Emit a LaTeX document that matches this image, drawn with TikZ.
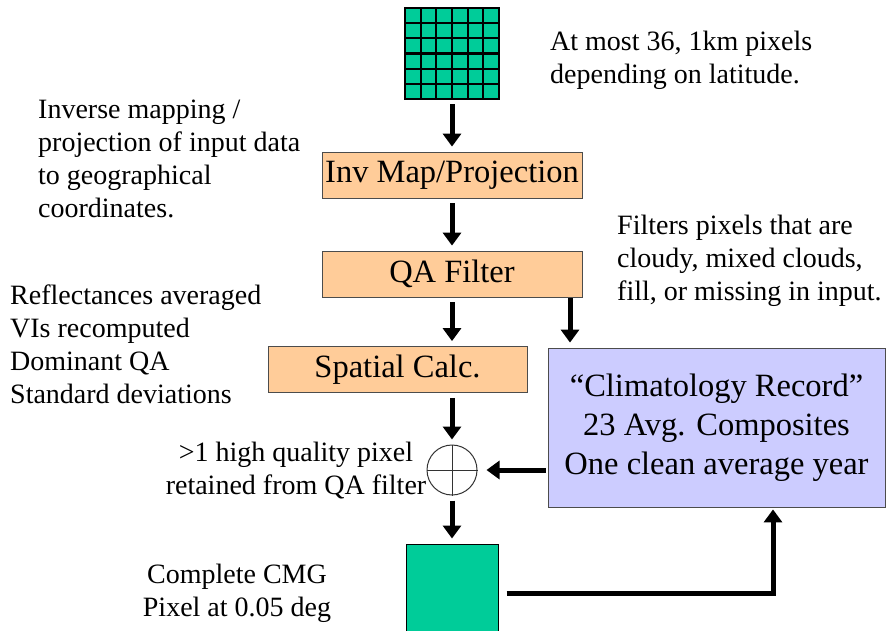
\documentclass[tikz,border=0pt]{standalone}
\usepackage{fontspec}
\setmainfont{Liberation Serif}
\usepackage{xcolor}
\usetikzlibrary{arrows.meta}
\definecolor{cmggreen}{HTML}{00CC99}
\definecolor{procorange}{HTML}{FFCC99}
\definecolor{climblue}{HTML}{CCCCFF}

\begin{document}
\begin{tikzpicture}[x=1pt,y=-1pt]
\tikzset{>={Triangle[width=18pt,length=13pt]}}
\tikzstyle{proc} =[draw=black!70, fill=procorange, line width=0.8pt, minimum height=46pt, inner sep=0pt, font=\fontsize{32.5}{39}\selectfont]
\tikzstyle{note} =[inner sep=0pt, font=\fontsize{28}{33}\selectfont]
\tikzstyle{flow} =[->, line width=5pt, shorten >=5pt, shorten <=5pt]

\useasboundingbox (0,0) rectangle (888,631);

% input grid
\node[draw=black!60, fill=cmggreen, line width=1pt, minimum width=94pt, minimum height=91pt, inner sep=0pt](grid) at (452,53.5){};
\foreach \i in {1,...,5} {
  \pgfmathsetmacro{\gx}{405+\i*94/6}
  \pgfmathsetmacro{\gy}{8+\i*91/6}
  \draw[line width=2.2pt] (\gx,8) -- (\gx,99);
  \draw[line width=2.2pt] (405,\gy) -- (499,\gy);
}
\draw[line width=2.2pt] (405,8) rectangle (499,99);

% processing chain
\node[proc, minimum width=260pt](inv) at (452,175){Inv Map/Projection};
\node[proc, minimum width=260pt](qa) at (452,274){QA Filter};
\node[proc, minimum width=259pt](spat) at (397.5,369.5){Spatial Calc.};
\node[draw=black!70, fill=climblue, line width=0.8pt, minimum width=337pt, minimum height=159pt, inner sep=0pt, align=center, font=\fontsize{32.5}{39}\selectfont](clim) at (716.5,427.5){``Climatology Record''\\23 Avg. Composites\\One clean average year};
\node[circle, draw=black!80, line width=1pt, minimum size=50pt, inner sep=0pt](sum) at (452,470){};
\draw[line width=1pt, black!80] (sum.north) -- (sum.south);
\draw[line width=1pt, black!80] (sum.west) -- (sum.east);
\node[draw=black, fill=cmggreen, line width=1pt, minimum width=92pt, minimum height=92pt, inner sep=0pt](cmg) at (452,590){};

\coordinate (qaside) at (570,296);
\coordinate (bend) at (773,593);

\draw[flow] (grid) -- (inv);
\draw[flow] (inv) -- (qa);
\draw[flow] (qa.south) -- (qa.south |- spat.north);
\draw[flow, shorten <=2pt] (qaside) -- (qaside |- clim.north);
\draw[flow] (spat.south -| sum) -- (sum);
\draw[flow, shorten <=2pt, shorten >=9pt] (clim.west |- sum) -- (sum);
\draw[flow] (sum) -- (cmg);
\draw[->, line width=5pt, shorten <=8pt, shorten >=2pt] (cmg.east |- bend) -- (bend) -- (bend |- clim.south);

% notes
\node[note, anchor=west, align=left](nin) at (550,60.5){At most 36, 1km pixels\\depending on latitude.};
\node[note, anchor=west, align=left](ninv) at (38,159){Inverse mapping /\\projection of input data\\to geographical\\coordinates.};
\node[note, anchor=west, align=left](nqa) at (617,261){Filters pixels that are\\cloudy, mixed clouds,\\fill, or missing in input.};
\node[note, anchor=west, align=left](nspat) at (10,344){Reflectances averaged\\VIs recomputed\\Dominant QA\\Standard deviations};
\node[note, align=center](nsum) at (296,471){>1 high quality pixel\\retained from QA filter};
\node[note, align=center](ncmg) at (237,593.5){Complete CMG\\Pixel at 0.05 deg};
\end{tikzpicture}
\end{document}
